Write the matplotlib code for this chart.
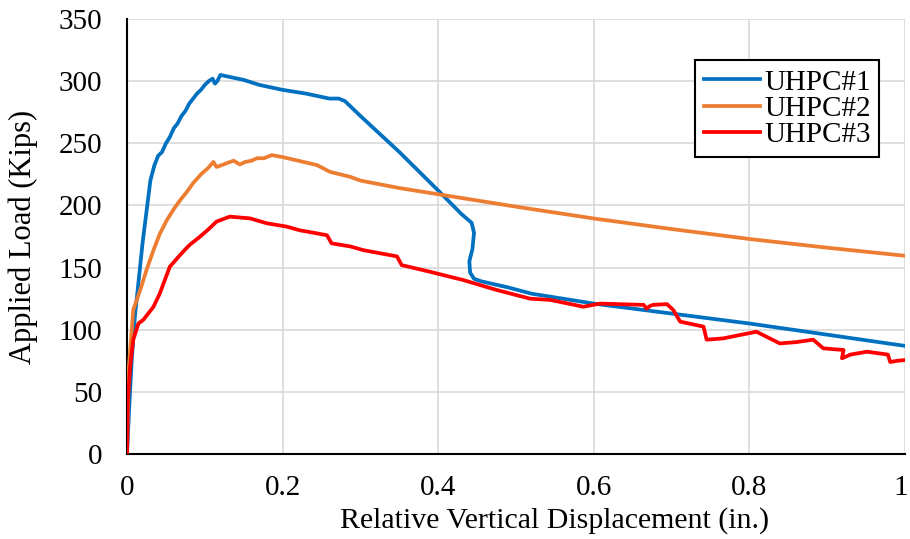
import matplotlib
matplotlib.use("Agg")
import matplotlib.pyplot as plt
import matplotlib.transforms as mtransforms

plt.rcParams['font.family'] = ['Liberation Serif', 'DejaVu Serif']

# UHPC#1
x1 = [0.0, 0.003, 0.006, 0.010, 0.015, 0.020, 0.025, 0.030, 0.035, 0.040, 0.045, 0.050,
      0.055, 0.060, 0.065, 0.070, 0.075, 0.080, 0.085, 0.090, 0.095, 0.100, 0.105, 0.110,
      0.113, 0.116, 0.120, 0.135, 0.150, 0.170, 0.200, 0.230, 0.260, 0.272, 0.280,
      0.300, 0.350, 0.400, 0.430, 0.443, 0.446, 0.444, 0.440, 0.441, 0.446, 0.455,
      0.490, 0.520, 0.600, 0.700, 0.800, 0.900, 1.000]
y1 = [0, 40, 75, 110, 140, 170, 195, 220, 232, 240, 243, 250,
      255, 262, 266, 272, 276, 282, 286, 290, 293, 297, 300, 302,
      298, 300, 305, 303, 301, 297, 293, 290, 286, 286, 284,
      272, 243, 212, 193, 186, 178, 165, 155, 146, 141, 139,
      134, 129, 121, 113, 105, 96, 87]

# UHPC#2
x2 = [0.0, 0.002, 0.008, 0.017, 0.025, 0.034, 0.042, 0.051, 0.060, 0.068, 0.077, 0.085,
      0.095, 0.104, 0.111, 0.115, 0.120, 0.128, 0.137, 0.145, 0.152, 0.160, 0.167, 0.176,
      0.186, 0.199, 0.220, 0.244, 0.261, 0.287, 0.300, 0.350, 0.400, 0.500, 0.600,
      0.700, 0.800, 0.900, 1.000]
y2 = [0, 67, 116, 132, 148, 164, 177, 188, 197, 204, 211, 218,
      225, 230, 235, 231, 232, 234, 236, 233, 235, 236, 238, 238,
      240.5, 239, 236, 232.5, 227, 223, 220, 214, 209, 199, 189.5,
      181, 173, 166, 159.5]

# UHPC#3
x3 = [0.0, 0.001, 0.004, 0.008, 0.0146, 0.021, 0.034, 0.042, 0.055, 0.068, 0.080, 0.094,
      0.105, 0.115, 0.132, 0.158, 0.180, 0.205, 0.222, 0.240, 0.257, 0.263, 0.287,
      0.304, 0.347, 0.353, 0.389, 0.432, 0.475, 0.518, 0.544, 0.5865, 0.608, 0.664,
      0.668, 0.672, 0.676, 0.694, 0.702, 0.711, 0.741, 0.745, 0.766, 0.790, 0.809,
      0.839, 0.860, 0.882, 0.895, 0.921, 0.919, 0.930, 0.951, 0.978, 0.981, 0.990, 1.000]
y3 = [0, 43, 70, 92, 105, 108, 118.5, 129, 150.7, 160, 168, 175,
      181, 187, 191, 189.6, 185.6, 183, 180, 178, 176, 169.5, 167,
      164, 159, 152, 146.7, 140, 132, 125, 124, 118.5, 121, 120,
      117, 119, 120, 120.6, 116, 106.5, 102.5, 92, 93, 96, 98.4,
      89, 90, 92, 85, 83.7, 77, 80, 82.3, 80, 74, 75, 75.6]

xticks = [0, 0.2, 0.4, 0.6, 0.8, 1.0]
xticklabels = ["0", "0.2", "0.4", "0.6", "0.8", "1"]
yticks = [0, 50, 100, 150, 200, 250, 300, 350]

fig = plt.figure(figsize=(9.1, 5.39), dpi=100)
ax = fig.add_axes([0.1396, 0.1577, 0.8549, 0.807])

ax.plot(x1, y1, color='#0070C0', lw=2.7, label='UHPC#1', zorder=3)
ax.plot(x2, y2, color='#ED7D31', lw=2.7, label='UHPC#2', zorder=3)
ax.plot(x3, y3, color='#FF0000', lw=2.7, label='UHPC#3', zorder=4)

ax.set_xlim(0, 1)
ax.set_ylim(0, 350)
ax.set_xticks(xticks)
ax.set_xticklabels(xticklabels)
ax.set_yticks(yticks)
ax.tick_params(axis='x', length=0, labelsize=21, pad=15)
ax.tick_params(axis='y', length=0, labelsize=21, pad=18)
ax.grid(True, color='#D9D9D9', lw=1.2, zorder=0)
ax.set_axisbelow(True)
for s in ['top', 'right']:
    ax.spines[s].set_visible(False)
for s in ['left', 'bottom']:
    ax.spines[s].set_color('black')
    ax.spines[s].set_linewidth(1.5)

# nudge the last x tick label so it stays inside the figure
last = ax.get_xticklabels()[-1]
last.set_transform(last.get_transform() +
                   mtransforms.ScaledTranslation(-4 / 100, 0, fig.dpi_scale_trans))

ax.set_xlabel('Relative Vertical Displacement (in.)', fontsize=21.5, va='center')
ax.xaxis.set_label_coords(0.549, -0.152)
ax.set_ylabel('Applied Load (Kips)', fontsize=22, va='center')
ax.yaxis.set_label_coords(-0.133, 0.5)

leg = ax.legend(loc='upper right', bbox_to_anchor=(0.967, 0.905), fontsize=21,
                frameon=True, fancybox=False, edgecolor='black', framealpha=1,
                handlelength=1.9, handletextpad=0.15, borderpad=0.3, labelspacing=0.0,
                borderaxespad=0)
leg.get_frame().set_linewidth(1.5)

fig.savefig('out.png', dpi=100)
